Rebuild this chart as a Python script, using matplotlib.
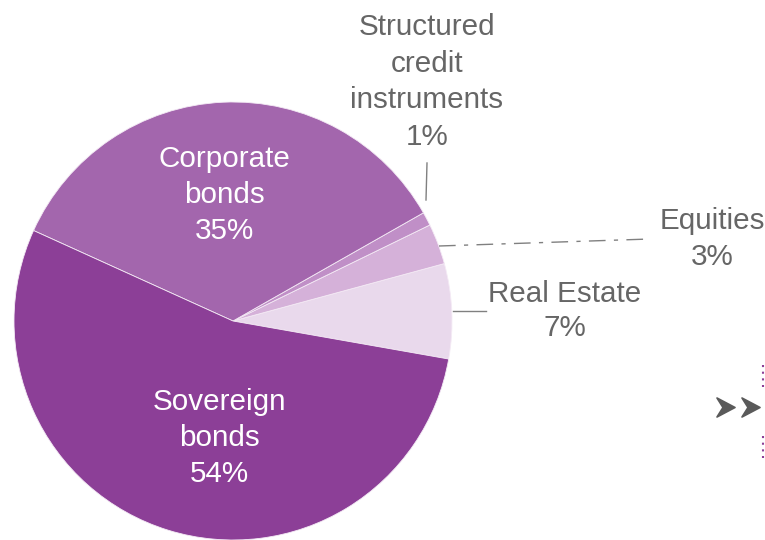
import matplotlib.pyplot as plt
from matplotlib.patches import Polygon

plt.rcParams['font.family'] = ['Liberation Sans', 'DejaVu Sans']

# portfolio split, counter-clockwise from the right-hand side
names = ["Real Estate", "Equities", "Structured\ncredit\ninstruments",
         "Corporate\nbonds", "Sovereign\nbonds"]
shares = [7, 3, 1, 35, 54]
colors = ["#E9D9EC", "#D5B1D9", "#C08FC7", "#A366AD", "#8C3F97"]

W, H = 765, 540
fig = plt.figure(figsize=(W / 100, H / 100), dpi=100)
ax = fig.add_axes([0, 0, 1, 1])


def py(y):
    # pixel rows counted from the top
    return H - y


ax.pie(shares, colors=colors, startangle=-10, counterclock=True,
       center=(233, py(321)), radius=219, frame=True,
       wedgeprops=dict(edgecolor="#F4EAF5", linewidth=0.6))
ax.set_xlim(0, W)
ax.set_ylim(0, H)
ax.set_aspect("equal")
ax.axis("off")

fs = 21.3
ls = 1.38
grey = "#666666"
lab = [f"{n}\n{v}%" for n, v in zip(names, shares)]

# labels inside the two big slices
ax.text(224, py(195), lab[3], color="white", fontsize=fs, ha="center",
        va="center", linespacing=ls)
ax.text(219, py(438), lab[4], color="white", fontsize=fs, ha="center",
        va="center", linespacing=ls)

# outside labels and their leader lines
ax.text(427, py(82), lab[2], color=grey, fontsize=fs, ha="center",
        va="center", linespacing=ls)
ax.plot([427, 426], [py(163), py(200)], color="#808080", lw=1)

ax.text(712, py(239), lab[1], color=grey, fontsize=fs, ha="center",
        va="center", linespacing=ls)
ax.plot([439, 650], [py(246), py(239)], color="#808080", lw=1,
        linestyle=(0, (12, 6, 3, 6)))

ax.text(565, py(311), lab[0], color=grey, fontsize=fs, ha="center",
        va="center", linespacing=1.3)
ax.plot([453, 486], [py(311), py(311)], color="#808080", lw=1)

# navigation marks on the right edge
for x0 in (717, 742):
    pts = [(x0, py(398)), (x0 + 18, py(407.5)), (x0, py(417)),
           (x0 + 6, py(407.5))]
    ax.add_patch(Polygon(pts, closed=True, facecolor="#5A5A5A",
                         edgecolor="#5A5A5A", lw=1.2, joinstyle="round"))
for ya, yb in ((365, 387), (436, 458)):
    ax.plot([763, 763], [py(ya), py(yb)], color="#8C3F97", lw=1.5,
            linestyle=(0, (1, 2.2)))

fig.savefig("out.png", dpi=100)
